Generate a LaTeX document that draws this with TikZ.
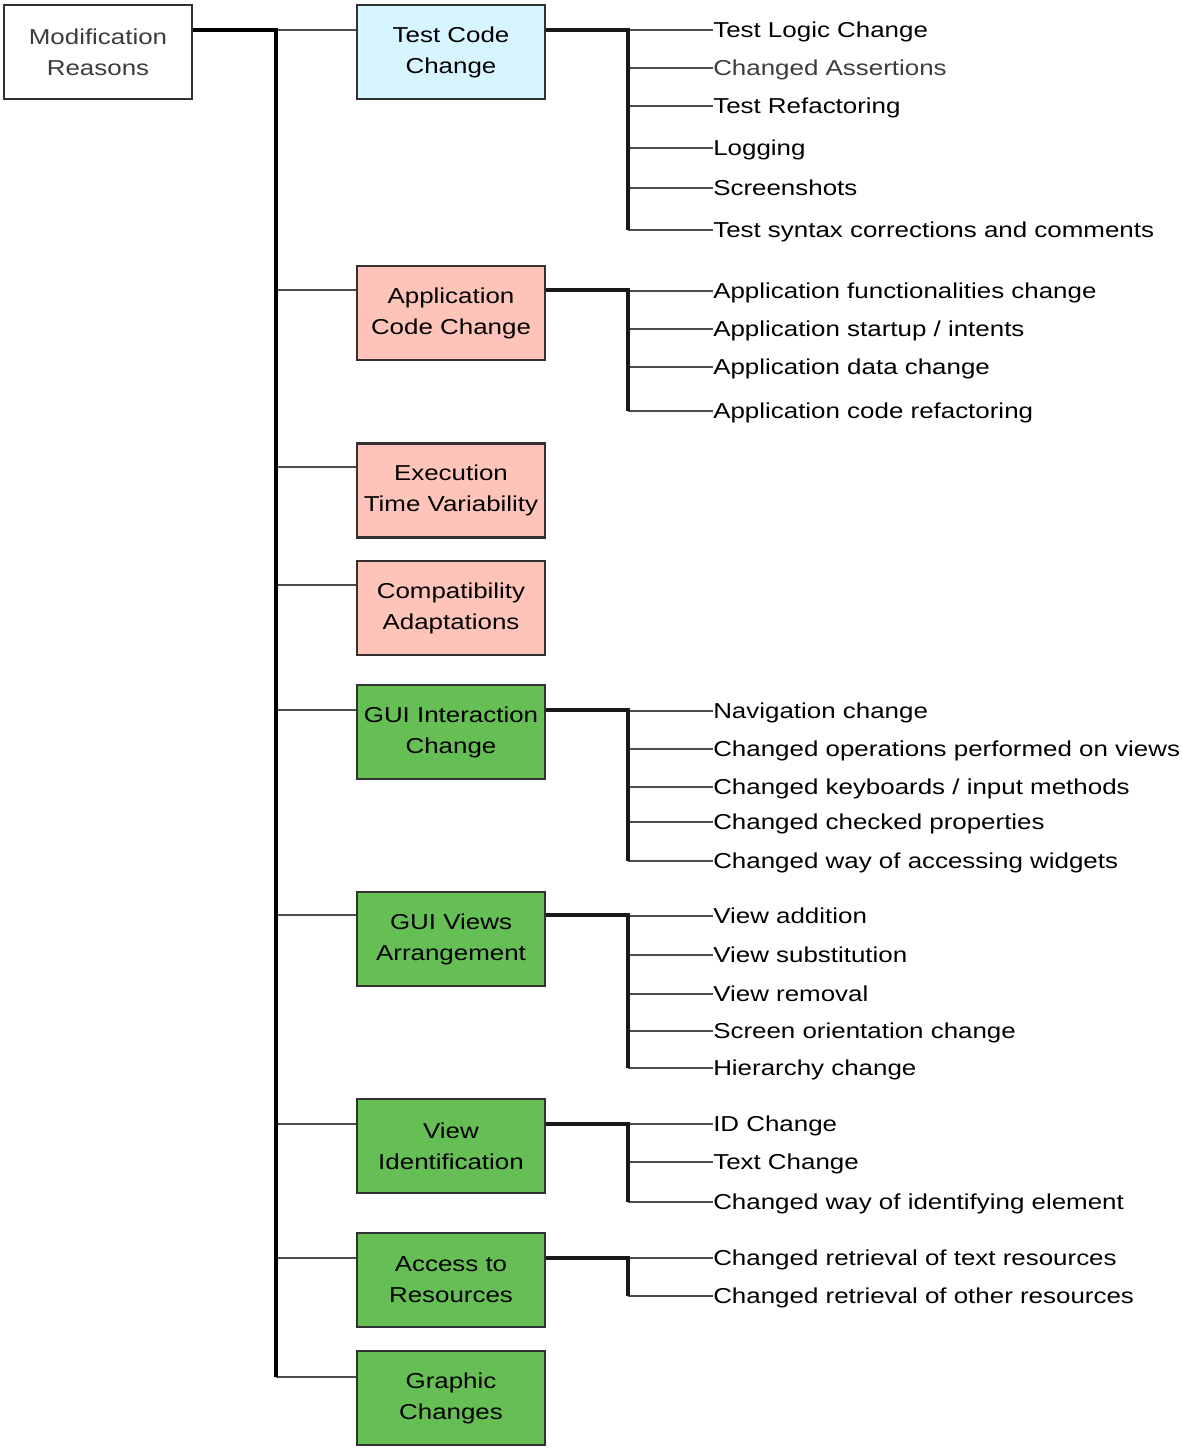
\documentclass[tikz,border=0pt]{standalone}
\usepackage{fontspec}
\setmainfont{Liberation Sans}[FakeStretch=1.2]
\definecolor{bluefill}{RGB}{214,245,255}
\definecolor{salfill}{RGB}{255,196,185}
\definecolor{grnfill}{RGB}{102,191,85}
\definecolor{edge}{RGB}{50,50,50}
\definecolor{txtgray}{RGB}{60,60,60}
\begin{document}
\begin{tikzpicture}[x=0.75pt,y=-0.75pt,
  every node/.style={font=\fontsize{16.2}{23.25}\selectfont},
  box/.style={draw=edge, line width=1.6pt, minimum width=141pt, minimum height=70.5pt, inner sep=0pt, align=center},
  bluebox/.style={box, fill=bluefill},
  salbox/.style={box, fill=salfill},
  grnbox/.style={box, fill=grnfill},
  item/.style={anchor=base west, inner sep=0pt},
  trunk/.style={line width=3pt, black},
  br/.style={line width=1.8pt, black!70},
  bar/.style={line width=2.4pt, black!90}]
\useasboundingbox (0,0) rectangle (1182,1450);

% root
\node[box, fill=white, text=txtgray] (root) at (98,52) {Modification\\Reasons};

% categories
\node[bluebox] (c1) at (451,52) {Test Code\\Change};
\node[salbox] (c2) at (451,313) {Application\\Code Change};
\node[salbox] (c3) at (451,490.5) {Execution\\Time Variability};
\node[salbox] (c4) at (451,608) {Compatibility\\Adaptations};
\node[grnbox] (c5) at (451,732) {GUI Interaction\\Change};
\node[grnbox] (c6) at (451,939) {GUI Views\\Arrangement};
\node[grnbox] (c7) at (451,1146) {View\\Identification};
\node[grnbox] (c8) at (451,1280) {Access to\\Resources};
\node[grnbox] (c9) at (451,1398) {Graphic\\Changes};

% trunk coordinates
\coordinate (t1) at (276,30);
\coordinate (t2) at (276,290);
\coordinate (t3) at (276,467);
\coordinate (t4) at (276,585);
\coordinate (t5) at (276,710);
\coordinate (t6) at (276,915);
\coordinate (t7) at (276,1124);
\coordinate (t8) at (276,1258);
\coordinate (t9) at (276,1377);

\foreach \i in {1,...,9} {
  \draw[br] (t\i) -- (t\i -| c\i.west);
}
\draw[trunk] (root.east |- t1) -- (t1) -- (t9);

% bracket coordinates
\coordinate (b1) at (628,30);
\coordinate (b2) at (628,290);
\coordinate (b5) at (628,710);
\coordinate (b6) at (628,915);
\coordinate (b7) at (628,1124);
\coordinate (b8) at (628,1258);

% items: Test Code Change
\node[item] (i11) at (713,37.7) {Test Logic Change};
\node[item, text=txtgray] (i12) at (713,75.7) {Changed Assertions};
\node[item] (i13) at (713,113.7) {Test Refactoring};
\node[item] (i14) at (713,155.7) {Logging};
\node[item] (i15) at (713,195.7) {Screenshots};
\node[item] (i16) at (713,237.7) {Test syntax corrections and comments};

% Application Code Change
\node[item] (i21) at (713,298.7) {Application functionalities change};
\node[item] (i22) at (713,336.7) {Application startup / intents};
\node[item] (i23) at (713,374.7) {Application data change};
\node[item] (i24) at (713,418.7) {Application code refactoring};

% GUI Interaction Change
\node[item] (i51) at (713,718.7) {Navigation change};
\node[item] (i52) at (713,756.7) {Changed operations performed on views};
\node[item] (i53) at (713,794.7) {Changed keyboards / input methods};
\node[item] (i54) at (713,829.7) {Changed checked properties};
\node[item] (i55) at (713,868.7) {Changed way of accessing widgets};

% GUI Views Arrangement
\node[item] (i61) at (713,923.7) {View addition};
\node[item] (i62) at (713,962.7) {View substitution};
\node[item] (i63) at (713,1001.7) {View removal};
\node[item] (i64) at (713,1038.7) {Screen orientation change};
\node[item] (i65) at (713,1075.7) {Hierarchy change};

% View Identification
\node[item] (i71) at (713,1131.7) {ID Change};
\node[item] (i72) at (713,1169.7) {Text Change};
\node[item] (i73) at (713,1209.7) {Changed way of identifying element};

% Access to Resources
\node[item] (i81) at (713,1265.7) {Changed retrieval of text resources};
\node[item] (i82) at (713,1303.7) {Changed retrieval of other resources};

% item branches
\foreach \b/\list in {1/{1/30,2/68,3/106,4/148,5/188,6/230},
                      2/{1/291,2/329,3/367,4/411},
                      5/{1/711,2/749,3/787,4/822,5/861},
                      6/{1/916,2/955,3/994,4/1031,5/1068},
                      7/{1/1124,2/1162,3/1202},
                      8/{1/1258,2/1296}} {
  \foreach \k/\y in \list {
    \draw[br] (b\b |- 0,\y) -- (i\b\k.west |- 0,\y);
  }
}

% connectors box -> bracket
\draw[bar] (c1.east |- b1) -- (b1) -- (b1 |- 0,230);
\draw[bar] (c2.east |- b2) -- (b2) -- (b2 |- 0,411);
\draw[bar] (c5.east |- b5) -- (b5) -- (b5 |- 0,861);
\draw[bar] (c6.east |- b6) -- (b6) -- (b6 |- 0,1068);
\draw[bar] (c7.east |- b7) -- (b7) -- (b7 |- 0,1202);
\draw[bar] (c8.east |- b8) -- (b8) -- (b8 |- 0,1296);
\end{tikzpicture}
\end{document}
